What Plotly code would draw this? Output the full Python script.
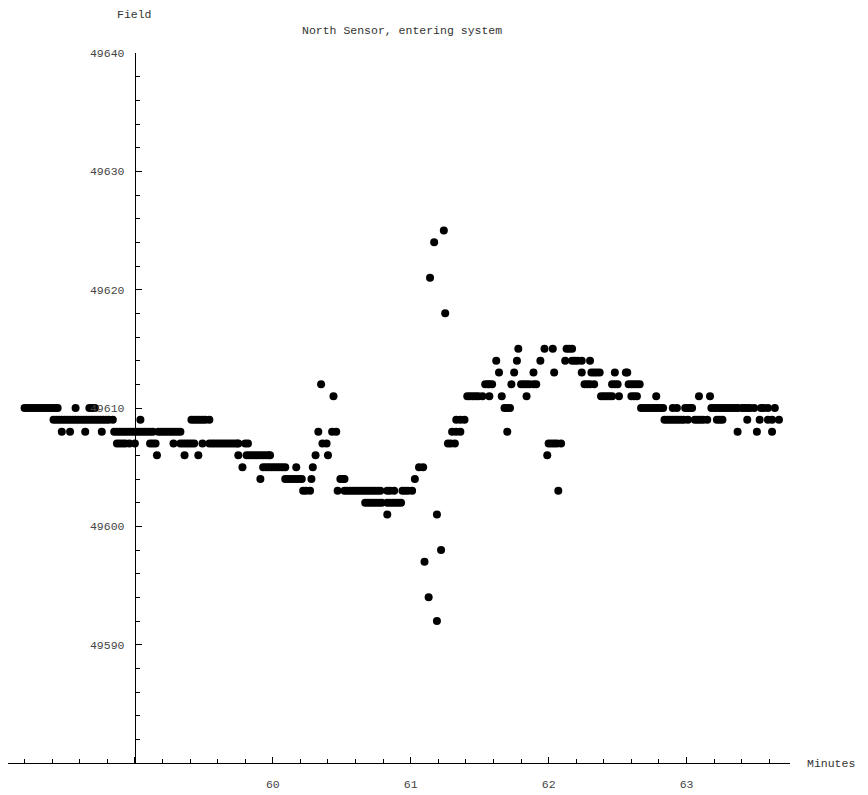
import plotly.graph_objects as go

# Sample times (minutes) for each field level
m_49625 = [61.24]
m_49624 = [61.17]
m_49621 = [61.14]
m_49618 = [61.25]
m_49615 = [61.78, 61.97, 62.03, 62.13, 62.15, 62.17]
m_49614 = [61.62, 61.77, 61.94, 62.12, 62.17, 62.19, 62.21, 62.24, 62.30]
m_49613 = [61.64, 61.75, 61.89, 62.04, 62.24, 62.31, 62.33, 62.35, 62.37, 62.48, 62.56, 62.57]
m_49612 = [60.35, 61.54, 61.56, 61.57, 61.59, 61.73, 61.80, 61.82, 61.84, 61.86, 61.89, 61.91,
           62.26, 62.28, 62.30, 62.33, 62.46, 62.48, 62.50, 62.58, 62.60, 62.62, 62.64, 62.66]
m_49611 = [60.44, 61.41, 61.43, 61.45, 61.47, 61.49, 61.52, 61.57, 61.66, 61.84, 62.38, 62.40,
           62.42, 62.44, 62.46, 62.51, 62.60, 62.62, 62.64, 62.78, 63.09, 63.17]
m_49610 = [58.20, 58.22, 58.24, 58.26, 58.28, 58.30, 58.32, 58.34, 58.36, 58.38, 58.40, 58.42,
           58.44, 58.57, 58.67, 58.69, 58.71, 61.68, 61.70, 61.72, 62.67, 62.69, 62.71, 62.73,
           62.75, 62.77, 62.79, 62.81, 62.83, 62.90, 62.93, 62.99, 63.01, 63.03, 63.04, 63.18,
           63.20, 63.22, 63.24, 63.26, 63.28, 63.30, 63.32, 63.34, 63.36, 63.37, 63.40, 63.42,
           63.44, 63.46, 63.49, 63.54, 63.56, 63.59, 63.64]
m_49609 = [58.41, 58.43, 58.45, 58.47, 58.49, 58.51, 58.53, 58.55, 58.57, 58.59, 58.61, 58.63,
           58.65, 58.67, 58.69, 58.71, 58.73, 58.75, 58.77, 58.79, 58.81, 58.84, 59.04, 59.41,
           59.43, 59.45, 59.47, 59.49, 59.51, 59.54, 61.33, 61.36, 61.39, 62.84, 62.86, 62.88,
           62.90, 62.92, 62.94, 62.96, 62.98, 63.01, 63.06, 63.08, 63.10, 63.12, 63.15, 63.22,
           63.24, 63.26, 63.44, 63.53, 63.59, 63.62, 63.67]
m_49608 = [58.47, 58.53, 58.64, 58.76, 58.85, 58.87, 58.89, 58.91, 58.93, 58.95, 58.97, 58.99,
           59.01, 59.03, 59.05, 59.07, 59.09, 59.11, 59.13, 59.17, 59.19, 59.21, 59.23, 59.25,
           59.27, 59.29, 59.31, 59.33, 60.33, 60.43, 60.46, 61.30, 61.33, 61.36, 61.70, 63.37,
           63.51, 63.62]
m_49607 = [58.87, 58.89, 58.91, 58.93, 58.96, 59.00, 59.11, 59.13, 59.15, 59.28, 59.33, 59.35,
           59.37, 59.39, 59.41, 59.43, 59.49, 59.54, 59.56, 59.58, 59.60, 59.62, 59.64, 59.66,
           59.68, 59.70, 59.72, 59.74, 59.75, 59.80, 59.82, 60.36, 60.39, 61.27, 61.29, 61.32,
           62.00, 62.02, 62.04, 62.06, 62.09]
m_49606 = [59.16, 59.36, 59.46, 59.75, 59.81, 59.83, 59.85, 59.87, 59.89, 59.91, 59.93, 59.95,
           59.97, 59.98, 60.31, 60.40, 61.99]
m_49605 = [59.78, 59.93, 59.95, 59.97, 59.99, 60.01, 60.03, 60.05, 60.07, 60.09, 60.17, 60.29,
           61.06, 61.09]
m_49604 = [59.91, 60.09, 60.11, 60.13, 60.15, 60.17, 60.19, 60.21, 60.28, 60.49, 60.51, 60.52,
           61.03]
m_49603 = [60.22, 60.24, 60.27, 60.47, 60.52, 60.54, 60.56, 60.58, 60.60, 60.62, 60.64, 60.66,
           60.68, 60.70, 60.72, 60.74, 60.76, 60.78, 60.83, 60.85, 60.88, 60.94, 60.96, 60.98,
           61.01, 62.07]
m_49602 = [60.67, 60.69, 60.71, 60.73, 60.75, 60.77, 60.79, 60.83, 60.85, 60.87, 60.89, 60.91,
           60.93]
m_49601 = [60.83, 61.19]
m_49598 = [61.22]
m_49597 = [61.10]
m_49594 = [61.13]
m_49592 = [61.19]

levels = [
    (49625, m_49625), (49624, m_49624), (49621, m_49621), (49618, m_49618),
    (49615, m_49615), (49614, m_49614), (49613, m_49613), (49612, m_49612),
    (49611, m_49611), (49610, m_49610), (49609, m_49609), (49608, m_49608),
    (49607, m_49607), (49606, m_49606), (49605, m_49605), (49604, m_49604),
    (49603, m_49603), (49602, m_49602), (49601, m_49601), (49598, m_49598),
    (49597, m_49597), (49594, m_49594), (49592, m_49592),
]

minutes = []
field = []
for lvl, ts in levels:
    for t in ts:
        minutes.append(t)
        field.append(lvl)

x_major = [59, 60, 61, 62, 63]
x_labels = ["", "60", "61", "62", "63"]
y_major = [49590, 49600, 49610, 49620, 49630, 49640]
y_labels = ["49590", "49600", "49610", "49620", "49630", "49640"]

X_RANGE = [58.08, 63.75]
Y_RANGE = [49580, 49640]
Y_AXIS_AT = 59.0

FONT = "Liberation Mono, Courier New, monospace"

fig = go.Figure()
fig.add_trace(go.Scatter(
    x=minutes, y=field, mode="markers",
    marker=dict(color="black", size=8, line=dict(width=0)),
    hoverinfo="x+y", showlegend=False,
))

ypos = (Y_AXIS_AT - X_RANGE[0]) / (X_RANGE[1] - X_RANGE[0])

# page body adds an 8px offset, so the figure is sized to fit the window
fig.update_layout(
    width=860, height=787,
    margin=dict(l=0, r=78, t=45, b=32, autoexpand=False),
    paper_bgcolor="white", plot_bgcolor="white",
    font=dict(family=FONT, size=11.5, color="#333"),
    xaxis=dict(
        range=X_RANGE, showgrid=False, zeroline=False, automargin=False,
        showline=True, linecolor="black", linewidth=1.2,
        tickmode="array", tickvals=x_major, ticktext=x_labels,
        ticks="inside", ticklen=6, tickcolor="black", tickwidth=1,
        ticklabelstandoff=10,
        minor=dict(tick0=58, dtick=0.2, ticks="inside", ticklen=4,
                   tickcolor="black", tickwidth=1, showgrid=False),
        tickfont=dict(family=FONT, size=11.5, color="#444"),
    ),
    yaxis=dict(
        range=Y_RANGE, showgrid=False, zeroline=False, automargin=False,
        anchor="free", position=ypos,
        showline=True, linecolor="black", linewidth=1.2,
        tickmode="array", tickvals=y_major, ticktext=y_labels,
        ticks="inside", ticklen=6, tickcolor="black", tickwidth=1,
        ticklabelstandoff=8,
        minor=dict(tick0=49580, dtick=2, ticks="inside", ticklen=4,
                   tickcolor="black", tickwidth=1, showgrid=False),
        tickfont=dict(family=FONT, size=11.5, color="#444"),
    ),
    annotations=[
        dict(text="Field", xref="paper", yref="paper", x=ypos, y=1.0,
             xanchor="center", yanchor="bottom", yshift=30, showarrow=False,
             font=dict(family=FONT, size=11.5, color="#333")),
        dict(text="North Sensor, entering system", xref="paper", yref="paper",
             x=0.504, y=1.0, xanchor="center", yanchor="middle", yshift=23,
             showarrow=False, font=dict(family=FONT, size=11.5, color="#333")),
        dict(text="Minutes", xref="paper", yref="paper", x=1.0, y=0.0,
             xanchor="left", yanchor="middle", xshift=15, showarrow=False,
             font=dict(family=FONT, size=11.5, color="#333")),
    ],
)

fig.write_html("out.html")
